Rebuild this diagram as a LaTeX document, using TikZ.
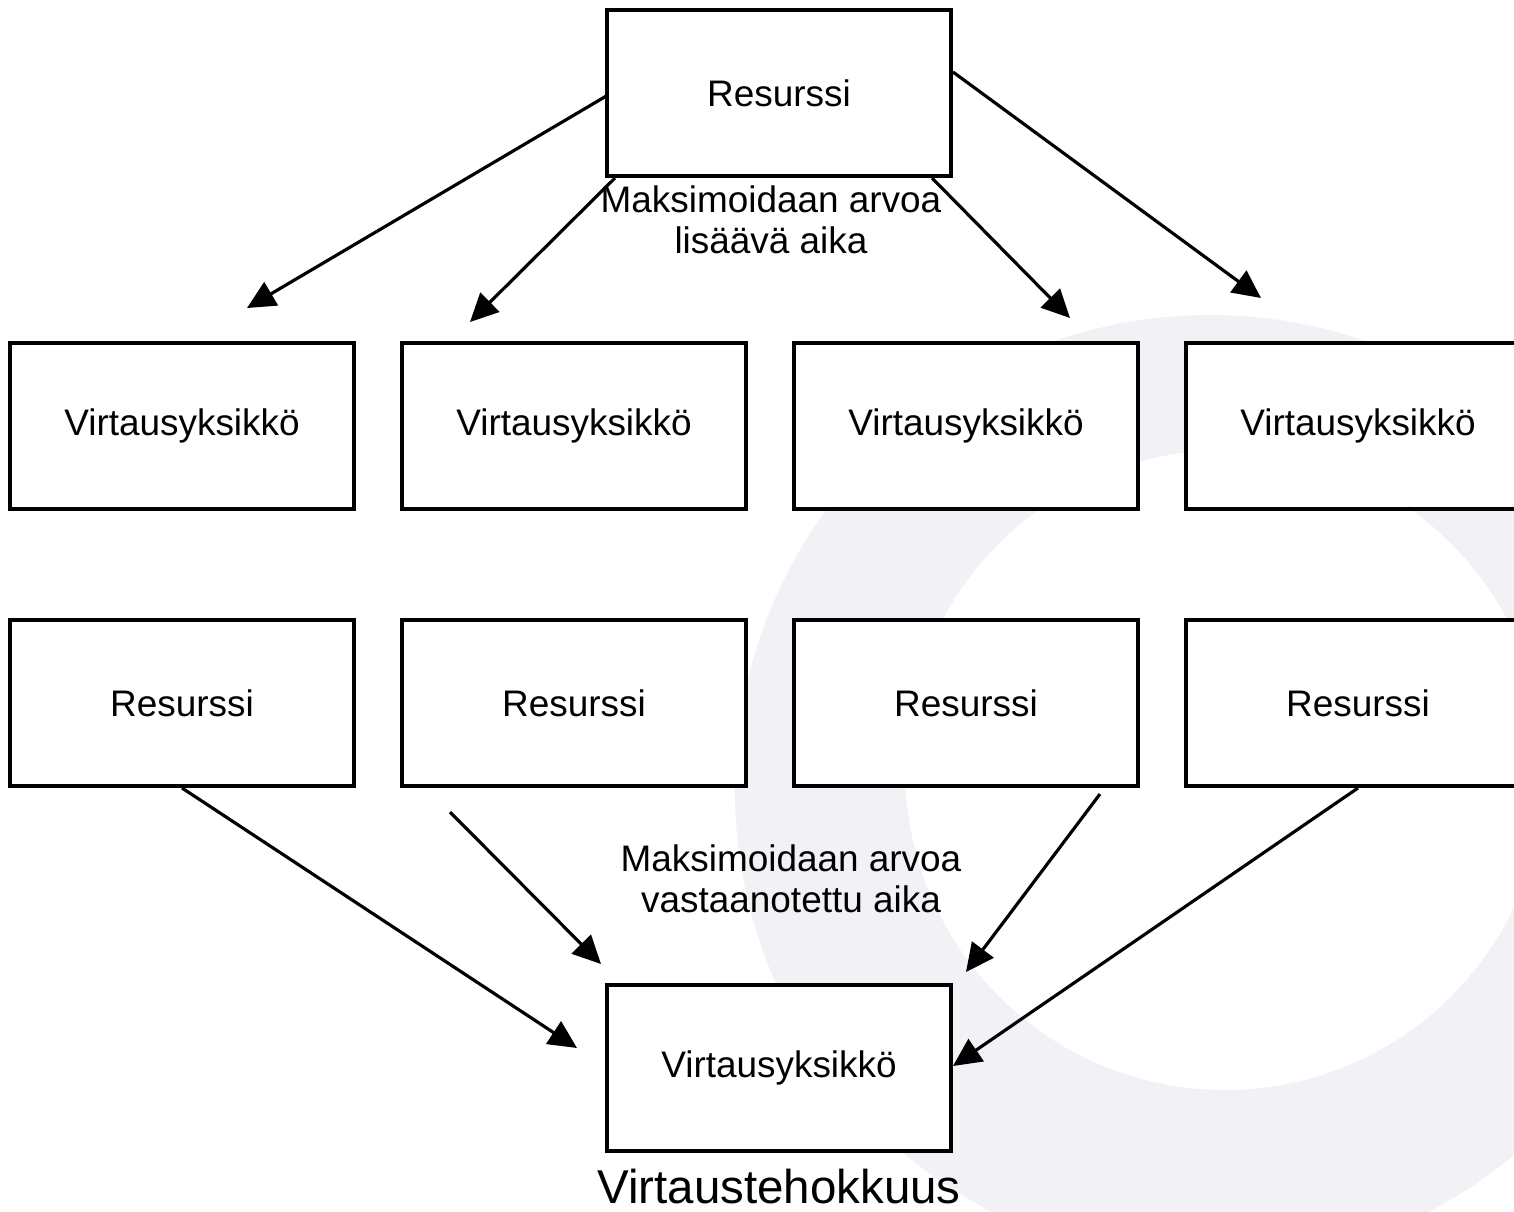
\documentclass[tikz,border=0pt]{standalone}
\usepackage{fontspec}
\setmainfont{Liberation Sans}
\usetikzlibrary{arrows.meta}

\definecolor{wmark}{RGB}{242,242,246}

\tikzset{
  box/.style={draw=black, fill=white, line width=1.1pt,
              minimum width=3.43cm, minimum height=1.66cm, inner sep=0pt,
              font=\fontsize{10.5}{12}\selectfont},
  flow/.style={line width=0.9pt,
               -{Triangle[length=8pt, width=7.6pt]}},
  note/.style={align=center, inner sep=0pt,
               font=\fontsize{10.5}{11.7}\selectfont}
}

\begin{document}
\begin{tikzpicture}[x=0.01cm, y=-0.01cm]
  \useasboundingbox (0,0) rectangle (1514,1211);
  \fill[white] (0,0) rectangle (1514,1211);

  % faint ring in the background
  \fill[wmark, even odd rule] (1210,790) circle (475) (1225,770) circle (320);

  % source resource
  \node[box] (top) at (779,93) {Resurssi};

  % flow units
  \node[box] (v1) at (182,426) {Virtausyksikkö};
  \node[box] (v2) at (574,426) {Virtausyksikkö};
  \node[box] (v3) at (966,426) {Virtausyksikkö};
  \node[box] (v4) at (1358,426) {Virtausyksikkö};

  % resources
  \node[box] (r1) at (182,703) {Resurssi};
  \node[box] (r2) at (574,703) {Resurssi};
  \node[box] (r3) at (966,703) {Resurssi};
  \node[box] (r4) at (1358,703) {Resurssi};

  % receiving flow unit
  \node[box] (bot) at (779,1068) {Virtausyksikkö};
  \node[inner sep=0pt, font=\fontsize{13.5}{15}\selectfont] (title) at (779,1187) {Virtaustehokkuus};

  % connector ends
  \coordinate (s1) at (608,95);
  \coordinate (s2) at (615,178);
  \coordinate (s3) at (932,178);
  \coordinate (s4) at (953,72);
  \coordinate (t1) at (247,308);
  \coordinate (t2) at (470,322);
  \coordinate (t3) at (1070,318);
  \coordinate (t4) at (1261,298);

  \coordinate (s6) at (450,812);
  \coordinate (s7) at (1100,794);
  \coordinate (t5) at (577,1048);
  \coordinate (t6) at (601,964);
  \coordinate (t7) at (966,972);
  \coordinate (t8) at (953,1066);

  \draw[flow] (s1) -- (t1);
  \draw[flow] (s2) -- (t2);
  \draw[flow] (s3) -- (t3);
  \draw[flow] (s4) -- (t4);

  \draw[flow] (r1.south) -- (t5);
  \draw[flow] (s6) -- (t6);
  \draw[flow] (s7) -- (t7);
  \draw[flow] (r4.south) -- (t8);

  % labels
  \node[note] (lab1) at (771,220) {Maksimoidaan arvoa\\lisäävä aika};
  \node[note] (lab2) at (791,879) {Maksimoidaan arvoa\\vastaanotettu aika};
\end{tikzpicture}
\end{document}
